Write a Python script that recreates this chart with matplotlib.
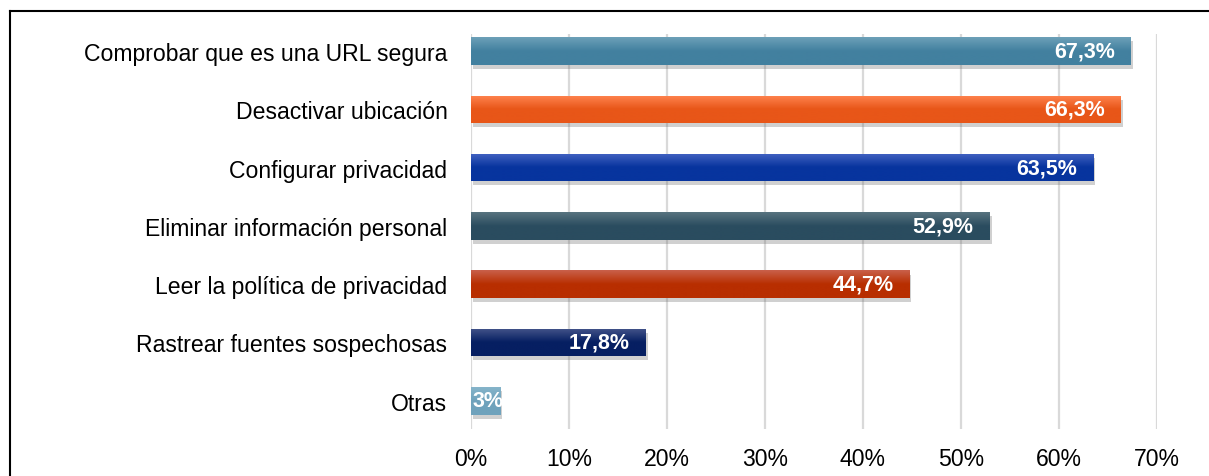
import numpy as np
import matplotlib
matplotlib.use("Agg")
import matplotlib.pyplot as plt
from matplotlib import patheffects
from matplotlib.colors import LinearSegmentedColormap
from matplotlib.lines import Line2D

plt.rcParams["font.family"] = ["Liberation Sans", "DejaVu Sans"]

# datos
categorias = [
    "Comprobar que es una URL segura",
    "Desactivar ubicación",
    "Configurar privacidad",
    "Eliminar información personal",
    "Leer la política de privacidad",
    "Rastrear fuentes sospechosas",
    "Otras",
]
valores = [67.3, 66.3, 63.5, 52.9, 44.7, 17.8, 3.0]
etiquetas = ["67,3%", "66,3%", "63,5%", "52,9%", "44,7%", "17,8%", "3%"]
ticks = [0, 10, 20, 30, 40, 50, 60, 70]
tick_labels = ["0%", "10%", "20%", "30%", "40%", "50%", "60%", "70%"]

# gradiente: (claro arriba, oscuro abajo)
colores = [
    ("#6CA0B8", "#42809F"),
    ("#FF8450", "#E85618"),
    ("#4363C2", "#07349E"),
    ("#58737F", "#2A4C5F"),
    ("#C9604A", "#B82E00"),
    ("#44548A", "#061F62"),
    ("#86B4CA", "#6FA2BC"),
]

fig = plt.figure(figsize=(12.09, 4.77), dpi=100)
ax = fig.add_axes([471 / 1209, 1 - 430 / 477, (1157 - 471) / 1209, (430 - 35) / 477])

y = np.arange(len(categorias))
bars = ax.barh(y, valores, height=0.47, color=[c[1] for c in colores], zorder=3)

for bar, (c1, c2) in zip(bars, colores):
    bar.set_path_effects([
        patheffects.SimplePatchShadow(offset=(1.5, -3), shadow_rgbFace="#666666", alpha=0.3),
        patheffects.Normal(),
    ])
    x0, y0 = bar.get_x(), bar.get_y()
    w, h = bar.get_width(), bar.get_height()
    cmap = LinearSegmentedColormap.from_list("g", [c1, c2, c2])
    grad = np.linspace(0, 1, 64).reshape(-1, 1)
    im = ax.imshow(grad, cmap=cmap, aspect="auto", extent=(x0, x0 + w, y0 + h, y0),
                   zorder=4, interpolation="bilinear")
    im.set_clip_path(bar)

for i, (v, lab) in enumerate(zip(valores, etiquetas)):
    if v < 10:
        ax.text(0.15, i, lab, ha="left", va="center", color="white",
                fontsize=15.5, fontweight="bold", zorder=5)
    else:
        ax.text(v - 1.6, i, lab, ha="right", va="center", color="white",
                fontsize=15.5, fontweight="bold", zorder=5)

ax.set_xlim(0, 70)
ax.set_ylim((430 - 52) / 58.3, (35 - 52) / 58.3)
ax.set_xticks(ticks)
ax.set_xticklabels(tick_labels)
ax.set_yticks(y)
ax.set_yticklabels(categorias)
ax.tick_params(axis="both", length=0, labelsize=16.6, colors="black")
ax.tick_params(axis="y", pad=17)
ax.tick_params(axis="x", pad=13)
ax.grid(axis="x", color="#D9D9D9", linewidth=1.6, zorder=0)
for s in ax.spines.values():
    s.set_visible(False)

# marco exterior
fig.add_artist(Line2D([10 / 1209, 10 / 1209], [0, 1 - 12 / 477], color="black", linewidth=1.5))
fig.add_artist(Line2D([10 / 1209, 1], [1 - 12 / 477, 1 - 12 / 477], color="black", linewidth=1.5))

fig.savefig("out.png", dpi=100)
